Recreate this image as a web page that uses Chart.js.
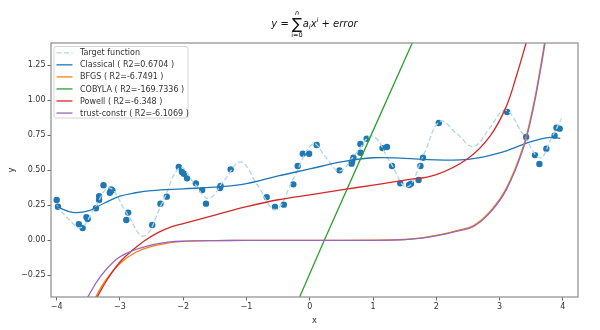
<!DOCTYPE html>
<html>
<head>
<meta charset="utf-8">
<script src="https://cdn.jsdelivr.net/npm/chart.js@4.4.0/dist/chart.umd.min.js"></script>
<style>
  html, body { margin: 0; padding: 0; background: #ffffff; }
  #wrap { width: 600px; height: 330px; }
</style>
</head>
<body>
<div id="wrap"><canvas id="c" width="600" height="330"></canvas></div>
<script>
// Noisy samples
const sampleX = [-4.00, -3.98, -3.65, -3.59, -3.53, -3.51, -3.38, -3.33, -3.33, -3.26, -3.16, -3.14, -3.12,
  -2.87, -2.90, -2.49, -2.36, -2.26, -2.07, -2.02, -1.99, -1.94, -1.80, -1.70, -1.64, -1.42, -1.41, -1.25,
  -0.68, -0.55, -0.41, -0.26, -0.19, -0.11, -0.01, 0.11, 0.47, 0.66, 0.67, 0.69, 0.80, 0.80, 0.90,
  1.15, 1.22, 1.30, 1.43, 1.57, 1.60, 1.72, 1.75, 1.79, 2.04, 3.12, 3.42, 3.56, 3.63, 3.74, 3.87, 3.90, 3.95];
const sampleY = [0.288, 0.240, 0.116, 0.088, 0.166, 0.152, 0.229, 0.316, 0.288, 0.393, 0.340, 0.364, 0.357,
  0.198, 0.145, 0.109, 0.262, 0.312, 0.524, 0.488, 0.476, 0.443, 0.407, 0.359, 0.262, 0.374, 0.388, 0.507,
  0.309, 0.238, 0.255, 0.400, 0.531, 0.619, 0.619, 0.681, 0.500, 0.548, 0.562, 0.590, 0.626, 0.688, 0.726,
  0.659, 0.667, 0.531, 0.407, 0.395, 0.405, 0.431, 0.531, 0.590, 0.838, 0.917, 0.738, 0.609, 0.545, 0.655, 0.748, 0.805, 0.798];

// Target function
const targetX = [-4.00, -3.81, -3.62, -3.40, -3.17, -2.90, -2.62, -2.33, -2.05, -1.83, -1.60, -1.35, -1.09,
  -0.82, -0.54, -0.25, 0.05, 0.26, 0.47, 0.73, 0.99, 1.27, 1.54, 1.80, 2.06, 2.33, 2.59, 2.84, 3.09, 3.37, 3.64, 3.82, 3.98];
const targetY = [0.25, 0.15, 0.09, 0.23, 0.375, 0.20, 0.03, 0.27, 0.52, 0.41, 0.30, 0.43, 0.56,
  0.39, 0.22, 0.45, 0.69, 0.59, 0.495, 0.62, 0.745, 0.56, 0.38, 0.61, 0.85, 0.76, 0.67, 0.80, 0.93, 0.76, 0.59, 0.73, 0.87];

// Fitted models
const classicalX = [-4.00, -3.75, -3.50, -3.25, -3.00, -2.75, -2.50, -2.00, -1.50, -1.00, -0.50, 0.00, 0.50, 1.00, 1.50, 2.00, 2.50, 3.00, 3.50, 3.80, 3.96];
const classicalY = [0.240, 0.200, 0.210, 0.265, 0.315, 0.340, 0.355, 0.368, 0.380, 0.405, 0.460, 0.510, 0.560, 0.590, 0.585, 0.575, 0.578, 0.625, 0.705, 0.735, 0.728];

const bfgsX = [-3.40, -3.25, -3.00, -2.75, -2.50, -2.25, -2.00, -1.50, -1.00, 0.00, 1.00, 1.50, 1.77, 2.06, 2.31, 2.59, 2.85, 3.11, 3.37, 3.53, 3.64, 3.71];
const bfgsY = [-0.42, -0.30, -0.165, -0.085, -0.043, -0.020, -0.008, -0.002, -0.001, 0.000, 0.001, 0.006, 0.017, 0.040, 0.068, 0.106, 0.206, 0.375, 0.665, 0.955, 1.22, 1.41];

const cobylaX = [-0.16, 0.23, 1.62];
const cobylaY = [-0.405, 0.00, 1.41];

const powellX = [-3.38, -3.20, -3.00, -2.80, -2.60, -2.40, -2.20, -2.00, -1.50, -1.00, -0.50, 0.00, 0.50, 1.00, 1.50, 2.00, 2.50, 2.85, 3.10, 3.27, 3.42];
const powellY = [-0.42, -0.28, -0.155, -0.07, 0.00, 0.055, 0.095, 0.12, 0.18, 0.24, 0.29, 0.325, 0.36, 0.395, 0.43, 0.47, 0.585, 0.745, 0.95, 1.18, 1.41];

const trustX = [-3.53, -3.31, -3.04, -2.77, -2.50, -2.24, -1.97, -1.50, -1.00, 0.00, 1.00, 1.50, 1.77, 2.06, 2.31, 2.59, 2.85, 3.11, 3.37, 3.53, 3.64, 3.72];
const trustY = [-0.42, -0.26, -0.13, -0.069, -0.033, -0.013, -0.006, -0.002, -0.001, 0.000, 0.000, 0.005, 0.015, 0.037, 0.064, 0.100, 0.198, 0.364, 0.650, 0.936, 1.198, 1.41];

// Axis ticks
const xTicks = [-4, -3, -2, -1, 0, 1, 2, 3, 4];
const yTicks = [-0.25, 0.00, 0.25, 0.50, 0.75, 1.00, 1.25];

const seriesLabels = ['Target function', 'Classical ( R2=0.6704 )', 'BFGS ( R2=-6.7491 )',
  'COBYLA ( R2=-169.7336 )', 'Powell ( R2=-6.348 )', 'trust-constr ( R2=-6.1069 )'];
const seriesColors = ['#add8e6', '#1f77b4', '#ff7f0e', '#2ca02c', '#d62728', '#9467bd'];

const FONT = 'DejaVu Sans';
const TEXT = '#333333';
const pts = (xs, ys) => xs.map((x, i) => ({ x: x, y: ys[i] }));
const minus = s => String(s).replace('-', '\u2212');

function lineSet(i, xs, ys, order, dash) {
  return {
    label: seriesLabels[i],
    data: pts(xs, ys),
    showLine: true,
    borderColor: seriesColors[i],
    backgroundColor: seriesColors[i],
    borderWidth: 1.3,
    borderDash: dash || [],
    pointRadius: 0,
    pointHoverRadius: 0,
    fill: false,
    tension: 0.4,
    clip: 0,
    order: order
  };
}

// Title with summation notation
const mathTitle = {
  id: 'mathTitle',
  afterDraw(chart) {
    const ctx = chart.ctx;
    const big = 10, small = 6.5, sig = 15;
    const it = s => 'italic ' + s + 'px "' + FONT + '"';
    const up = s => s + 'px "' + FONT + '"';
    const base = 27;
    const parts = [
      { t: 'y', f: it(big), dy: 0 },
      { t: ' = ', f: up(big), dy: 0 },
      { t: '\u2211', f: up(sig), dy: 2, sum: true },
      { t: ' ', f: up(2), dy: 0 },
      { t: 'a', f: it(big), dy: 0 },
      { t: 'i', f: it(small), dy: 2 },
      { t: 'x', f: it(big), dy: 0 },
      { t: 'i', f: it(small), dy: -5 },
      { t: ' + ', f: up(big), dy: 0 },
      { t: 'error', f: it(big), dy: 0 }
    ];
    let total = 0;
    parts.forEach(p => { ctx.font = p.f; p.w = ctx.measureText(p.t).width; total += p.w; });
    const ca = chart.chartArea;
    let x = (ca.left + ca.right) / 2 - total / 2;
    ctx.save();
    ctx.fillStyle = '#111111';
    ctx.textBaseline = 'alphabetic';
    ctx.textAlign = 'left';
    parts.forEach(p => {
      ctx.font = p.f;
      ctx.fillText(p.t, x, base + p.dy);
      if (p.sum) {
        const cx = x + p.w / 2;
        ctx.textAlign = 'center';
        ctx.font = it(small);
        ctx.fillText('n', cx, base - 12);
        ctx.font = up(small);
        ctx.fillText('i=0', cx, base + 10);
        ctx.textAlign = 'left';
      }
      x += p.w;
    });
    ctx.restore();
  }
};

// Axes frame and boxed legend
const frameAndLegend = {
  id: 'frameAndLegend',
  afterDatasetsDraw(chart) {
    const ctx = chart.ctx;
    const ca = chart.chartArea;
    ctx.save();
    ctx.strokeStyle = '#8c8c8c';
    ctx.lineWidth = 1.2;
    ctx.strokeRect(ca.left, ca.top, ca.right - ca.left, ca.bottom - ca.top);

    const bx = 54, by = 46.5, bw = 134, bh = 71.5, r = 2;
    ctx.beginPath();
    ctx.moveTo(bx + r, by);
    ctx.arcTo(bx + bw, by, bx + bw, by + bh, r);
    ctx.arcTo(bx + bw, by + bh, bx, by + bh, r);
    ctx.arcTo(bx, by + bh, bx, by, r);
    ctx.arcTo(bx, by, bx + bw, by, r);
    ctx.closePath();
    ctx.fillStyle = 'rgba(255,255,255,0.8)';
    ctx.fill();
    ctx.strokeStyle = '#d4d4d4';
    ctx.lineWidth = 1;
    ctx.stroke();

    ctx.font = '8px "' + FONT + '"';
    ctx.textBaseline = 'middle';
    ctx.textAlign = 'left';
    seriesLabels.forEach((lab, i) => {
      const y = 52.8 + i * 12.05;
      ctx.beginPath();
      ctx.setLineDash(i === 0 ? [5, 2.5] : []);
      ctx.strokeStyle = seriesColors[i];
      ctx.lineWidth = 1.3;
      ctx.moveTo(56.5, y);
      ctx.lineTo(72.5, y);
      ctx.stroke();
      ctx.setLineDash([]);
      ctx.fillStyle = TEXT;
      ctx.fillText(lab, 80, y + 0.5);
    });
    ctx.restore();
  }
};

new Chart(document.getElementById('c'), {
  type: 'scatter',
  data: {
    datasets: [
      lineSet(5, trustX, trustY, 0),
      lineSet(4, powellX, powellY, 1),
      lineSet(3, cobylaX, cobylaY, 2),
      lineSet(2, bfgsX, bfgsY, 3),
      lineSet(1, classicalX, classicalY, 4),
      lineSet(0, targetX, targetY, 5, [5, 2.5]),
      {
        label: 'samples',
        data: pts(sampleX, sampleY),
        showLine: false,
        pointRadius: 3.2,
        pointHoverRadius: 3.2,
        borderWidth: 0,
        backgroundColor: '#1f77b4',
        borderColor: '#1f77b4',
        order: 6
      }
    ]
  },
  options: {
    responsive: false,
    animation: false,
    devicePixelRatio: 1,
    layout: { padding: { left: 0, right: 22, top: 43, bottom: 0 } },
    plugins: {
      legend: { display: false },
      title: { display: false },
      tooltip: { enabled: false }
    },
    scales: {
      x: {
        type: 'linear',
        min: -4.09,
        max: 4.24,
        afterBuildTicks: s => { s.ticks = xTicks.map(v => ({ value: v })); },
        afterFit: s => { s.height = 33; },
        ticks: {
          callback: v => minus(v),
          font: { family: FONT, size: 8 },
          color: TEXT,
          padding: 2,
          maxRotation: 0
        },
        grid: { display: true, drawOnChartArea: false, drawTicks: true, tickLength: 3.5, color: '#666666' },
        border: { display: false },
        title: { display: true, text: 'x', font: { family: FONT, size: 8.3 }, color: TEXT, padding: { top: 0, bottom: 4 } }
      },
      y: {
        type: 'linear',
        min: -0.405,
        max: 1.41,
        afterBuildTicks: s => { s.ticks = yTicks.map(v => ({ value: v })); },
        afterFit: s => { s.width = 51; },
        ticks: {
          callback: v => minus(Number(v).toFixed(2)),
          font: { family: FONT, size: 8 },
          color: TEXT,
          padding: 2
        },
        grid: { display: true, drawOnChartArea: false, drawTicks: true, tickLength: 3.5, color: '#666666' },
        border: { display: false },
        title: { display: true, text: 'y', font: { family: FONT, size: 8.3 }, color: TEXT, padding: { top: 7, bottom: 0 } }
      }
    }
  },
  plugins: [mathTitle, frameAndLegend]
});
</script>
</body>
</html>
